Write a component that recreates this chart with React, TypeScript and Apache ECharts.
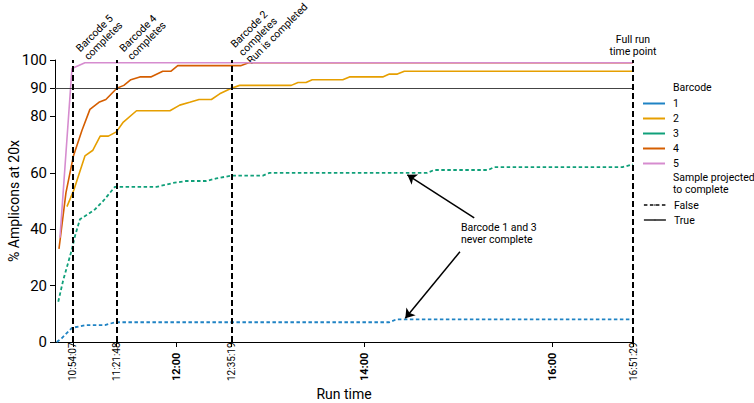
import React, { useEffect, useRef } from 'react';
import * as echarts from 'echarts';

// ---------- data ----------
const barcodeNames = ['1', '2', '3', '4', '5'];
const barcodeColors = ['#1f83c4', '#E69F00', '#10a07a', '#D55E00', '#d68ccf'];
const barcodeProjectedToComplete = [false, true, false, true, true];

const barcode1Times = ['10:43:44', '10:46:55', '10:53:30', '11:02:00', '11:14:30', '11:21:00', '14:16:00', '14:20:20', '16:51:29'];
const barcode1Values = [0, 1.3, 5, 6, 6, 7, 7, 8, 8];

const barcode2Times = ['10:50:18', '10:54:45', '11:01:46', '11:06:51', '11:11:30', '11:16:44', '11:21:49', '11:26:17', '11:34:41', '11:56:00', '12:02:16', '12:08:38', '12:14:34', '12:22:28', '12:27:45', '12:35:12', '12:40:29', '13:13:25', '13:17:45', '13:22:50', '13:26:48', '13:46:17', '13:50:33', '14:11:46', '14:16:02', '14:21:07', '14:25:35', '16:51:29'];
const barcode2Values = [48, 54, 66, 68, 73, 73, 74.5, 78, 82, 82, 84, 85, 86, 86, 88, 90, 91, 91, 92, 92, 93, 93, 94, 94, 95, 95, 96, 96];

const barcode3Times = ['10:44:45', '10:47:56', '10:53:17', '10:55:23', '10:58:35', '11:02:50', '11:08:08', '11:13:25', '11:20:52', '11:47:26', '11:58:00', '12:06:32', '12:19:17', '12:25:39', '12:35:12', '12:55:20', '12:59:36', '14:40:14', '14:44:41', '15:19:05', '15:22:54', '16:44:38', '16:51:29'];
const barcode3Values = [14.3, 22, 32.5, 37.5, 43.5, 45, 47, 50, 55, 55, 56.4, 57.1, 57.1, 58, 59, 59, 60, 60, 61, 61, 62, 62, 63];

const barcode4Times = ['10:45:12', '10:49:40', '10:54:26', '10:59:51', '11:04:57', '11:10:41', '11:15:08', '11:22:08', '11:26:36', '11:31:04', '11:36:48', '11:43:48', '11:51:26', '11:56:32', '12:01:00', '12:41:07', '12:46:13', '16:51:29'];
const barcode4Values = [33, 53, 66, 75, 82.5, 85, 86, 90, 91, 93, 94, 94, 96, 96, 98, 98, 99, 99];

const barcode5Times = ['10:45:50', '10:53:29', '11:01:46', '16:51:29'];
const barcode5Values = [37, 97, 99, 99];

const milestoneTimes = ['10:54:07', '11:21:48', '12:35:19', '16:51:29'];
const milestoneLabels = ['Barcode 5\ncompletes', 'Barcode 4\ncompletes', 'Barcode 2\ncompletes\nRun is completed', 'Full run\ntime point'];
const completionThreshold = 90;

const xTickLabels = ['10:54:07', '11:21:48', '12:00', '12:35:19', '14:00', '16:00', '16:51:29'];
const yTickValues = [0, 20, 40, 60, 80, 90, 100];
const axisStart = '10:42:40';
const axisEnd = '16:51:29';

const noteText = 'Barcode 1 and 3\nnever complete';
const noteTime = '15:01:40';
const noteValue = 38.3;
const arrowFromTimes = ['15:10:10', '15:01:03'];
const arrowFromValues = [44, 32];
const arrowToTimes = ['14:27:30', '14:26:12'];
const arrowToValues = [59.3, 8.4];

// ---------- helpers ----------
const toMin = (s: string): number => {
  const p = s.split(':').map(Number);
  return p[0] * 60 + p[1] + (p.length > 2 ? p[2] / 60 : 0);
};

const seriesTimes = [barcode1Times, barcode2Times, barcode3Times, barcode4Times, barcode5Times];
const seriesValues = [barcode1Values, barcode2Values, barcode3Values, barcode4Values, barcode5Values];

const FONT = 'Roboto';

export default function App() {
  const ref = useRef<HTMLDivElement>(null);

  useEffect(() => {
    document.body.style.margin = '0';
    const el = ref.current!;
    const chart = echarts.init(el, null, { renderer: 'svg' });

    const lineSeries = barcodeNames.map((name, i) => ({
      name,
      type: 'line',
      data: seriesTimes[i].map((t, j) => [toMin(t), seriesValues[i][j]]),
      showSymbol: false,
      symbol: 'none',
      color: barcodeColors[i],
      lineStyle: barcodeProjectedToComplete[i]
        ? { color: barcodeColors[i], width: 1.6, type: 'solid' }
        : { color: barcodeColors[i], width: 1.8, type: [3.5, 2.5] },
      z: 2,
    }));

    const option: any = {
      animation: false,
      backgroundColor: '#ffffff',
      textStyle: { fontFamily: FONT, color: '#000' },
      grid: { left: 55, right: 121, top: 60, bottom: 61, containLabel: false, outerBoundsMode: 'none' },
      xAxis: {
        type: 'value',
        min: toMin(axisStart),
        max: toMin(axisEnd),
        name: 'Run time',
        nameLocation: 'middle',
        nameGap: 45,
        nameMoveOverlap: false,
        nameTextStyle: { fontSize: 14, color: '#000', fontFamily: FONT },
        splitLine: { show: false },
        axisLine: { show: true, lineStyle: { color: '#000', width: 1 } },
        axisTick: { show: true, length: 5, lineStyle: { color: '#000' }, customValues: xTickLabels.map(toMin) },
        axisLabel: {
          customValues: xTickLabels.map(toMin),
          rotate: 90,
          align: 'left',
          verticalAlign: 'middle',
          margin: 39,
          color: '#000',
          formatter: (v: number) => {
            const lbl = xTickLabels.find((l) => Math.abs(toMin(l) - v) < 0.01) || '';
            return lbl.length === 5 ? `{b|${lbl}}` : `{r|${lbl}}`;
          },
          rich: {
            b: { fontWeight: 'bold', fontSize: 11, fontFamily: FONT, color: '#000' },
            r: { fontSize: 10, fontFamily: FONT, color: '#000' },
          },
        },
      },
      yAxis: {
        type: 'value',
        min: 0,
        max: 100,
        interval: 10,
        name: '% Amplicons at 20x',
        nameLocation: 'middle',
        nameRotate: 90,
        nameGap: 34,
        nameMoveOverlap: false,
        nameTextStyle: { fontSize: 14, color: '#000', fontFamily: FONT },
        splitLine: { show: false },
        axisLine: { show: true, lineStyle: { color: '#000', width: 1 } },
        axisTick: { show: true, length: 5, lineStyle: { color: '#000' }, customValues: yTickValues },
        axisLabel: { customValues: yTickValues, fontSize: 15, color: '#000', margin: 8, fontFamily: FONT },
      },
      legend: [
        {
          orient: 'vertical',
          left: 643,
          top: 96,
          padding: 0,
          itemWidth: 22,
          itemHeight: 2,
          itemGap: 0,
          icon: 'rect',
          selectedMode: false,
          data: barcodeNames,
          textStyle: { fontSize: 10.5, lineHeight: 15, color: '#000', fontFamily: FONT, padding: [0, 0, 0, 3] },
        },
        {
          orient: 'vertical',
          left: 643,
          top: 197.5,
          padding: 0,
          itemWidth: 22,
          itemHeight: 2,
          itemGap: 0,
          selectedMode: false,
          data: ['False', 'True'],
          lineStyle: { width: 1.8 },
          textStyle: { fontSize: 10.5, lineHeight: 15, color: '#000', fontFamily: FONT, padding: [0, 0, 0, 3] },
        },
      ],
      series: [
        ...lineSeries,
        {
          name: 'False',
          type: 'line',
          data: [],
          symbol: 'none',
          color: '#444',
          lineStyle: { color: '#444', width: 1.8, type: [3.5, 2.5] },
        },
        {
          name: 'True',
          type: 'line',
          data: [],
          symbol: 'none',
          color: '#444',
          lineStyle: { color: '#444', width: 1.8, type: 'solid' },
        },
        {
          name: 'refs',
          type: 'line',
          data: [],
          symbol: 'none',
          z: 5,
          markLine: {
            silent: true,
            animation: false,
            symbol: ['none', 'none'],
            label: { show: false },
            data: [
              { yAxis: completionThreshold, lineStyle: { color: '#444', width: 1.2, type: 'solid' } },
              ...milestoneTimes.map((t) => ({ xAxis: toMin(t), lineStyle: { color: '#000', width: 2, type: [6, 3] } })),
            ],
          },
        },
        {
          name: 'arrows',
          type: 'line',
          data: [],
          symbol: 'none',
          z: 6,
          markLine: {
            silent: true,
            animation: false,
            symbol: ['none', 'arrow'],
            symbolSize: 9,
            label: { show: false },
            lineStyle: { color: '#000', width: 1.5, type: 'solid' },
            data: arrowFromTimes.map((t, i) => [
              { coord: [toMin(t), arrowFromValues[i]] },
              { coord: [toMin(arrowToTimes[i]), arrowToValues[i]] },
            ]),
          },
        },
      ],
    };

    chart.setOption(option);

    const px = (t: string, v: number) => chart.convertToPixel({ gridIndex: 0 }, [toMin(t), v]) as number[];
    const textStyle = { fontSize: 10.5, fontFamily: FONT, fill: '#000', lineHeight: 11.5 };
    const graphics: any[] = [];
    milestoneLabels.forEach((lbl, i) => {
      const [x] = px(milestoneTimes[i], 100);
      if (i < 3) {
        graphics.push({
          type: 'text',
          x: x + 9,
          y: 54,
          rotation: Math.PI / 4,
          style: { ...textStyle, text: lbl, align: 'left', verticalAlign: 'middle' },
        });
      } else {
        graphics.push({
          type: 'text',
          x,
          y: 57,
          style: { ...textStyle, text: lbl, align: 'center', verticalAlign: 'bottom', lineHeight: 12 },
        });
      }
    });
    const [nx, ny] = px(noteTime, noteValue);
    graphics.push({ type: 'text', x: nx, y: ny, style: { ...textStyle, text: noteText, align: 'left', verticalAlign: 'middle', lineHeight: 12 } });
    graphics.push({ type: 'text', x: 673, y: 87, style: { ...textStyle, text: 'Barcode', align: 'left', verticalAlign: 'middle' } });
    graphics.push({ type: 'text', x: 673, y: 183.5, style: { ...textStyle, text: 'Sample projected\nto complete', align: 'left', verticalAlign: 'middle', lineHeight: 11.5 } });
    chart.setOption({ graphic: graphics });

    return () => chart.dispose();
  }, []);

  return <div ref={ref} style={{ position: 'absolute', left: 0, top: 0, width: 754, height: 403 }} />;
}
